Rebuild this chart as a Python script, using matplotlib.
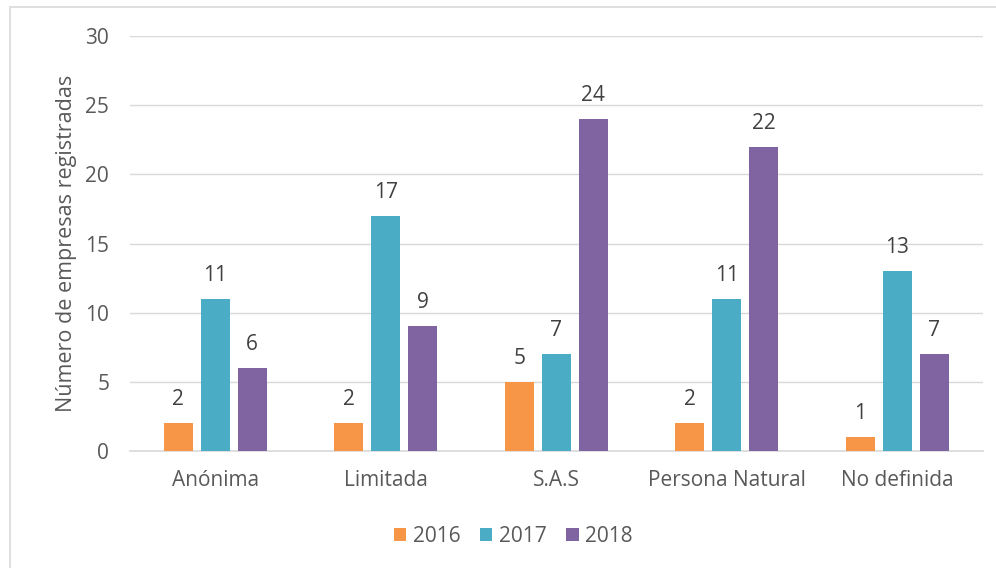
import matplotlib
matplotlib.use("Agg")
import matplotlib.pyplot as plt
import numpy as np
from matplotlib.patches import Rectangle

categories = ['Anónima', 'Limitada', 'S.A.S', 'Persona Natural', 'No definida']
years = ['2016', '2017', '2018']
v2016 = [2, 2, 5, 2, 1]
v2017 = [11, 17, 7, 11, 13]
v2018 = [6, 9, 24, 22, 7]
yticks = [0, 5, 10, 15, 20, 25, 30]

colors = ['#F79646', '#4BACC6', '#8064A2']
text_c = '#595959'
grid_c = '#D9D9D9'

plt.rcParams['font.family'] = ['Open Sans', 'DejaVu Sans']

fig = plt.figure(figsize=(9.96, 5.68), dpi=100)
ax = fig.add_axes([0.1305, 0.206, 0.856, 0.7306])

x = np.arange(len(categories))
w = 0.17
step = 0.217
for k, (vals, yr, c) in enumerate(zip([v2016, v2017, v2018], years, colors)):
    bars = ax.bar(x + (k - 1) * step, vals, w, color=c, label=yr, zorder=3)
    for b, v in zip(bars, vals):
        ax.text(b.get_x() + b.get_width() / 2, v + 0.95, str(v),
                ha='center', va='bottom', fontsize=15, color='#404040')

ax.set_xlim(-0.5, len(categories) - 0.5)
ax.set_ylim(0, 30)
ax.set_yticks(yticks)
ax.set_xticks(x)
ax.set_xticklabels(categories)
ax.tick_params(axis='both', length=0, labelsize=15, colors=text_c)
ax.tick_params(axis='y', pad=15)
ax.tick_params(axis='x', pad=14)
ax.yaxis.grid(True, color=grid_c, linewidth=1, zorder=0)
for s in ['top', 'right', 'left']:
    ax.spines[s].set_visible(False)
ax.spines['bottom'].set_color(grid_c)
ax.spines['bottom'].set_linewidth(1.2)
ax.set_ylabel('Número de empresas registradas', fontsize=15.5, color=text_c, labelpad=6)

ax.legend(loc='center', bbox_to_anchor=(0.4495, -0.205), ncol=3, frameon=False,
          fontsize=15, labelcolor=text_c, handlelength=0.6, handleheight=0.6,
          handletextpad=0.3, columnspacing=0.95)

fig.add_artist(Rectangle((10 / 996, -0.1), 1.2, 1 - 7 / 568 + 0.1,
                         transform=fig.transFigure, fill=False,
                         edgecolor=grid_c, linewidth=1.2))

fig.savefig('out.png', dpi=100)
plt.close()
